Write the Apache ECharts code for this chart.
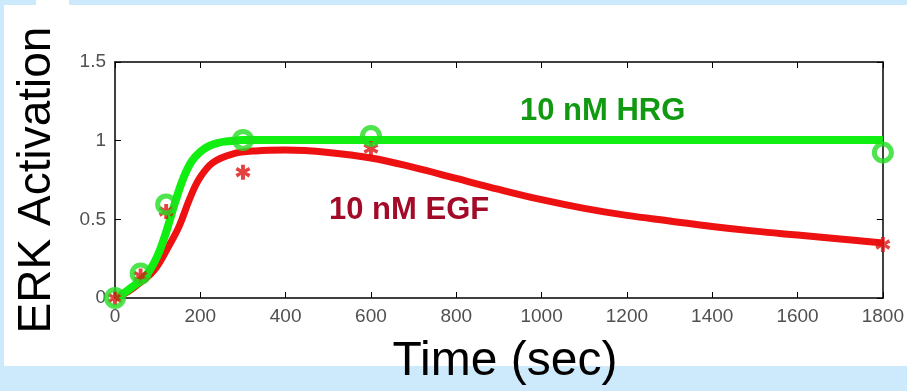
<!DOCTYPE html>
<html>
<head>
<meta charset="utf-8">
<script src="https://cdn.jsdelivr.net/npm/echarts@6/dist/echarts.min.js"></script>
<style>
  html, body { margin: 0; padding: 0; background: #cdeafc; }
  #chart { width: 907px; height: 391px; }
</style>
</head>
<body>
<div id="chart"></div>
<script>
  // fitted curves
  var hrgCurveT = [0, 20, 40, 60, 80, 100, 120, 140, 160, 180, 200, 220, 240, 260, 280, 300, 350, 400, 600, 900, 1200, 1500, 1800];
  var hrgCurveV = [0, 0.03, 0.07, 0.11, 0.17, 0.27, 0.42, 0.6, 0.76, 0.87, 0.93, 0.965, 0.985, 0.995, 1.0, 1.005, 1.005, 1.005, 1.005, 1.005, 1.005, 1.005, 1.005];
  var egfCurveT = [0, 30, 60, 93, 128, 151, 175, 198, 229, 275, 330, 400, 500, 600, 700, 800, 900, 1000, 1100, 1200, 1300, 1400, 1500, 1600, 1700, 1800];
  var egfCurveV = [0, 0.04, 0.1, 0.18, 0.34, 0.46, 0.63, 0.76, 0.86, 0.915, 0.935, 0.94, 0.925, 0.89, 0.83, 0.76, 0.69, 0.625, 0.57, 0.525, 0.49, 0.455, 0.425, 0.4, 0.375, 0.35];

  // measured points
  var hrgT = [0, 60, 120, 300, 600, 1800];
  var hrgV = [0, 0.155, 0.595, 1.005, 1.03, 0.925];
  var egfT = [0, 60, 120, 300, 600, 1800];
  var egfV = [0, 0.14, 0.55, 0.8, 0.95, 0.34];

  var xTicks = [0, 200, 400, 600, 800, 1000, 1200, 1400, 1600, 1800];
  var yTicks = [0, 0.5, 1, 1.5];

  function pairs(xs, ys) {
    return xs.map(function (x, i) { return [x, ys[i]]; });
  }

  var chart = echarts.init(document.getElementById('chart'));

  var tickLabel = { color: '#505050', fontSize: 19, fontFamily: 'Liberation Sans', margin: 9,
    formatter: function (v) { return String(v); } };

  chart.setOption({
    backgroundColor: '#cdeafc',
    animation: false,
    graphic: [
      { type: 'rect', z: -10, shape: { x: 4, y: 5, width: 903, height: 361 }, style: { fill: '#ffffff' } },
      { type: 'rect', z: -10, shape: { x: 36, y: 0, width: 33, height: 6 }, style: { fill: '#ffffff' } },
      { type: 'text', z: 20, left: 520, top: 96,
        style: { text: '10 nM HRG', fill: '#119a11', font: 'bold 31px "Liberation Sans", Arial' } },
      { type: 'text', z: 20, left: 329, top: 195,
        style: { text: '10 nM EGF', fill: '#a30a28', font: 'bold 31px "Liberation Sans", Arial' } }
    ],
    grid: { left: 115, right: 19, top: 62, bottom: 90 },
    xAxis: [{
      type: 'value', min: 0, max: 1800, interval: 200,
      name: 'Time (sec)', nameLocation: 'middle', nameGap: 40,
      nameTextStyle: { color: '#000', fontSize: 48, fontFamily: 'Liberation Sans', padding: [0, 0, 0, 12] },
      axisLine: { show: true, onZero: false, lineStyle: { color: '#000', width: 1.5 } },
      axisTick: { show: true, inside: true, length: 6, lineStyle: { color: '#000' } },
      axisLabel: tickLabel,
      splitLine: { show: false }
    }, {
      type: 'value', min: 0, max: 1800, interval: 200, position: 'top',
      axisLine: { show: true, onZero: false, lineStyle: { color: '#000', width: 1.5 } },
      axisTick: { show: true, inside: true, length: 6, lineStyle: { color: '#000' } },
      axisLabel: { show: false },
      splitLine: { show: false }
    }],
    yAxis: [{
      type: 'value', min: 0, max: 1.5, interval: 0.5,
      name: 'ERK Activation', nameLocation: 'middle', nameGap: 55, nameRotate: 90,
      nameTextStyle: { color: '#000', fontSize: 46, fontFamily: 'Liberation Sans' },
      axisLine: { show: true, onZero: false, lineStyle: { color: '#000', width: 1.5 } },
      axisTick: { show: true, inside: true, length: 6, lineStyle: { color: '#000' } },
      axisLabel: tickLabel,
      splitLine: { show: false }
    }, {
      type: 'value', min: 0, max: 1.5, interval: 0.5, position: 'right',
      axisLine: { show: true, onZero: false, lineStyle: { color: '#000', width: 1.5 } },
      axisTick: { show: true, inside: true, length: 6, lineStyle: { color: '#000' } },
      axisLabel: { show: false },
      splitLine: { show: false }
    }],
    series: [
      {
        name: '10 nM EGF fit', type: 'line', smooth: 0.4, showSymbol: false, z: 3,
        data: pairs(egfCurveT, egfCurveV),
        lineStyle: { color: '#ee1111', width: 7 }
      },
      {
        name: '10 nM HRG fit', type: 'line', smooth: 0.4, showSymbol: false, z: 4,
        data: pairs(hrgCurveT, hrgCurveV),
        lineStyle: { color: '#11ee11', width: 8 }
      },
      {
        name: '10 nM EGF', type: 'scatter', z: 5,
        data: pairs(egfT, egfV),
        symbol: 'path://M-1.3,-4.5L1.3,-4.5L1.3,-1.4L3.8,-3L5,-0.8L2.3,0.5L5,1.8L3.8,4L1.3,2.4L1.3,5.5L-1.3,5.5L-1.3,2.4L-3.8,4L-5,1.8L-2.3,0.5L-5,-0.8L-3.8,-3L-1.3,-1.4Z',
        symbolSize: 15,
        itemStyle: { color: '#dd1111' }
      },
      {
        name: '10 nM HRG', type: 'scatter', z: 6,
        data: pairs(hrgT, hrgV),
        symbol: 'circle', symbolSize: 17,
        itemStyle: { color: 'rgba(255,255,255,0)', borderColor: '#22dd22', borderWidth: 5 }
      }
    ]
  });
</script>
</body>
</html>
